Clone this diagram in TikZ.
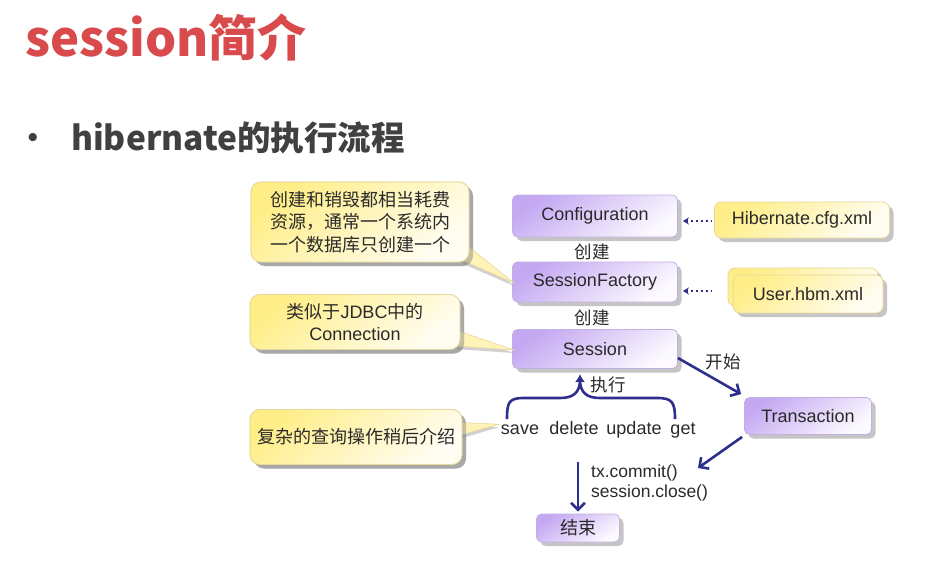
\documentclass[tikz,border=0pt]{standalone}
\usepackage{fontspec}
\setmainfont{Liberation Sans}
\newfontfamily\cjk{Noto Sans CJK SC}
\usetikzlibrary{shadows,arrows.meta,calc}
\definecolor{navy}{HTML}{2E2E8C}
\definecolor{titlered}{HTML}{D84A4C}
\definecolor{subgray}{HTML}{404040}
\definecolor{txt}{HTML}{2A2A2A}
\definecolor{pTop}{HTML}{C4A8F2}
\definecolor{pBot}{HTML}{FCFAFF}
\definecolor{pDraw}{HTML}{C2B0E0}
\definecolor{yTop}{HTML}{FFEE88}
\definecolor{yBot}{HTML}{FFFDF2}
\definecolor{yDraw}{HTML}{E6D79A}
\definecolor{yPoint}{HTML}{FFF3B8}
\tikzset{
  shad/.style={drop shadow={shadow xshift=4pt,shadow yshift=-4pt,fill=black!45,opacity=0.5}},
  purplebox/.style={draw=pDraw, line width=0.8pt, rounded corners=5pt,
    top color=pTop, bottom color=pBot, shading angle=35, shad,
    text=txt, font=\fontsize{18}{21}\selectfont, inner sep=0pt},
  yellowbox/.style={draw=yDraw, line width=0.8pt, rounded corners=7pt,
    top color=yTop, bottom color=yBot, shading angle=40, shad,
    text=txt, inner sep=0pt},
  calloutbox/.style={yellowbox, rounded corners=10pt, align=center,
    font=\fontsize{18}{22.5}\selectfont},
  pointer/.style={fill=yPoint, draw=yDraw, line width=0.6pt},
  pointershadow/.style={fill=black!45, opacity=0.4},
  lbl/.style={text=txt, font=\fontsize{17.5}{21}\selectfont, inner sep=0pt},
  oplbl/.style={text=txt, font=\fontsize{18}{21}\selectfont, inner sep=0pt, anchor=base},
  flow/.style={navy, line width=2.6pt, -{Straight Barb[length=7pt,width=14pt]}},
  dotlink/.style={navy, line width=1.8pt, dash pattern=on 1.8pt off 3pt,
    {Stealth[length=6pt,width=7pt]}-}
}
\begin{document}
\begin{tikzpicture}[x=1pt,y=-1pt]
\useasboundingbox[fill=white] (0,0) rectangle (940,584);

% headings
\node[anchor=base west, inner sep=0pt, text=titlered,
  font=\cjk\bfseries\fontsize{49}{52}\selectfont] (title) at (25,56) {session简介};
\node[inner sep=0pt, text=subgray, font=\fontsize{30}{30}\selectfont] (bullet) at (33,140) {\textbullet};
\node[anchor=base west, inner sep=0pt, text=subgray,
  font=\cjk\bfseries\fontsize{33.5}{36}\selectfont] (sub) at (71,150) {hibernate的执行流程};

% main boxes
\node[purplebox, minimum width=165pt, minimum height=42pt] (conf) at (595,216) {Configuration};
\node[purplebox, minimum width=165pt, minimum height=40pt] (sf) at (595,282) {SessionFactory};
\node[purplebox, minimum width=165pt, minimum height=39pt] (sess) at (595,349) {Session};
\node[purplebox, minimum width=127pt, minimum height=37pt] (tx) at (808,416) {Transaction};
\node[purplebox, minimum width=83pt, minimum height=28pt] (end) at (578,528) {\cjk 结束};

% xml boxes
\node[yellowbox, minimum width=175pt, minimum height=36pt, font=\fontsize{18}{21}\selectfont] (cfg) at (802,220) {Hibernate.cfg.xml};
\node[yellowbox, minimum width=150pt, minimum height=38pt] (userback) at (803,287) {};
\node[yellowbox, minimum width=150pt, minimum height=38pt, font=\fontsize{18}{21}\selectfont] (user) at (808,294) {User.hbm.xml};

% dotted links
\draw[dotlink] ($(conf.east)+(5,5)$) -- ($(cfg.west)+(-2,1)$);
\draw[dotlink] ($(sf.east)+(5,9)$) -- ($(user.west)+(-18,-3)$);

% labels
\node[lbl] (c1) at (592,252) {\cjk 创建};
\node[lbl] (c2) at (592,318) {\cjk 创建};
\node[lbl] (exec) at (608,385) {\cjk 执行};
\node[lbl] (start) at (723,362) {\cjk 开始};

% operations
\node[oplbl] (save) at (520,434) {save};
\node[oplbl] (delete) at (574,434) {delete};
\node[oplbl] (update) at (634,434) {update};
\node[oplbl] (get) at (683,434) {get};

% commit text
\node[lbl, anchor=west, align=left, font=\fontsize{17.5}{20.5}\selectfont] (commit) at (591,483) {tx.commit()\\session.close()};

% callouts: boxes first (to get names), pointers, then boxes again on top
\node[calloutbox, minimum width=218pt, minimum height=80pt] (call1) at (360,222) {\cjk 创建和销毁都相当耗费\\\cjk 资源，通常一个系统内\\\cjk 一个数据库只创建一个};
\node[calloutbox, minimum width=210pt, minimum height=55pt] (call2) at (355,322) {{\cjk 类似于}JDBC{\cjk 中的}\\Connection};
\node[calloutbox, minimum width=212pt, minimum height=55pt] (call3) at (356,437) {\cjk 复杂的查询操作稍后介绍};

\fill[pointershadow] ($(call1.east)+(-12,18)$) -- ($(call1.east)+(-6,42)$) -- ($(sf.west)+(2,4)$) -- cycle;
\filldraw[pointer] ($(call1.east)+(-14,14)$) -- ($(call1.east)+(-8,38)$) -- ($(sf.west)+(2,1)$) -- cycle;
\fill[pointershadow] ($(call2.east)+(-12,8)$) -- ($(call2.east)+(-6,27)$) -- ($(sess.west)+(2,4)$) -- cycle;
\filldraw[pointer] ($(call2.east)+(-14,5)$) -- ($(call2.east)+(-8,24)$) -- ($(sess.west)+(2,1)$) -- cycle;
\fill[pointershadow] ($(call3.east)+(-12,-12)$) -- ($(call3.east)+(-10,4)$) -- ($(save.west)+(-2,-2)$) -- cycle;
\filldraw[pointer] ($(call3.east)+(-14,-15)$) -- ($(call3.east)+(-12,1)$) -- ($(save.west)+(-2,-5)$) -- cycle;

\node[calloutbox, minimum width=218pt, minimum height=80pt] at (call1) {\cjk 创建和销毁都相当耗费\\\cjk 资源，通常一个系统内\\\cjk 一个数据库只创建一个};
\node[calloutbox, minimum width=210pt, minimum height=55pt] at (call2) {{\cjk 类似于}JDBC{\cjk 中的}\\Connection};
\node[calloutbox, minimum width=212pt, minimum height=55pt] at (call3) {\cjk 复杂的查询操作稍后介绍};

% brace
\coordinate (bl) at (507,419);
\coordinate (br) at (675,419);
\coordinate (peak) at (580,374);
\draw[navy, line width=2.6pt, line join=round]
  (bl) .. controls (507,402) and (509,398) .. (524,398) -- (560,398)
  .. controls (574,398) and (579,392) .. (580,382)
  .. controls (581,392) and (586,398) .. (600,398) -- (657,398)
  .. controls (672,398) and (675,402) .. (br);
\draw[navy, line width=2.6pt, -{Latex[length=8pt,width=10pt]}] (580,388) -- (peak);

% flow arrows
\draw[flow] ($(sess.east)+(0,9)$) -- ($(tx.north west)+(-3,-3)$);
\coordinate (ctip) at (698,468);
\draw[flow] ($(tx.south west)+(-2,2)$) -- (ctip);
\coordinate (dstart) at (578,462);
\draw[flow] (dstart) -- ($(end.north)+(0,-2)$);
\end{tikzpicture}
\end{document}
